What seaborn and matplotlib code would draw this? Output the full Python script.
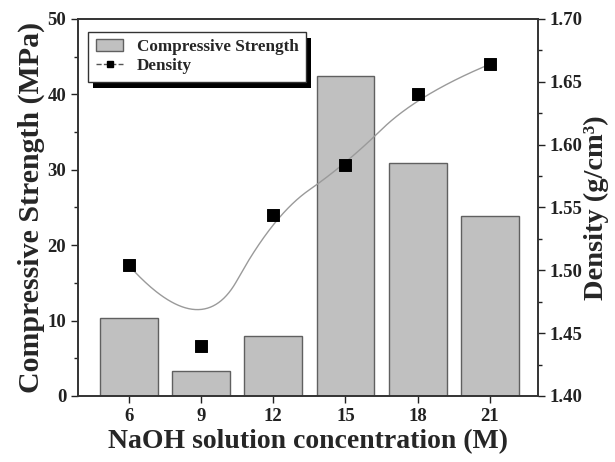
import numpy as np
import pandas as pd
import matplotlib
matplotlib.use("Agg")
import matplotlib.pyplot as plt
from matplotlib.patches import Rectangle, Patch
from matplotlib.lines import Line2D
import seaborn as sns

# ---- data ----
concentration = [6, 9, 12, 15, 18, 21]
strength = [10.3, 3.3, 8.0, 42.4, 30.9, 23.8]
density = [1.504, 1.440, 1.544, 1.584, 1.640, 1.664]
x_ticks = [6, 9, 12, 15, 18, 21]
left_ticks = [0, 10, 20, 30, 40, 50]
right_ticks = [1.40, 1.45, 1.50, 1.55, 1.60, 1.65, 1.70]

sns.set_theme(style="ticks")
plt.rcParams['font.family'] = ['Liberation Serif', 'DejaVu Serif']
plt.rcParams['font.weight'] = 'bold'

df = pd.DataFrame({"c": concentration, "s": strength, "d": density})

fig = plt.figure(figsize=(6.15, 4.62), dpi=100)
ax = fig.add_axes([0.127, 0.143, 0.748, 0.816])

sns.barplot(data=df, x="c", y="s", native_scale=True, width=0.8,
            color="#c0c0c0", edgecolor="#606060", linewidth=1.0,
            saturation=1, ax=ax, zorder=2)
ax.set_xlim(3.9, 23.0)
ax.set_ylim(0, 50)
ax.set_xticks(x_ticks)
ax.set_xticklabels([str(t) for t in x_ticks])
ax.set_yticks(left_ticks)
ax.set_yticks(np.arange(5, 50, 10), minor=True)

ax2 = ax.twinx()
ax2.set_ylim(1.40, 1.70)
ax2.set_yticks(right_ticks)
ax2.set_yticklabels([f"{t:.2f}" for t in right_ticks])
ax2.set_yticks(np.arange(1.425, 1.70, 0.05), minor=True)

# clamped quadratic B-spline using the density points as control points
def bspline(px, py, n=400, k=2):
    m = len(px)
    inner = np.linspace(0, 1, m - k + 1)[1:-1]
    t = np.concatenate([np.zeros(k + 1), inner, np.ones(k + 1)])
    u = np.linspace(0, 1 - 1e-9, n)
    def N(i, p, uu):
        if p == 0:
            return np.where((t[i] <= uu) & (uu < t[i + 1]), 1.0, 0.0)
        a = 0.0
        if t[i + p] != t[i]:
            a = (uu - t[i]) / (t[i + p] - t[i]) * N(i, p - 1, uu)
        b = 0.0
        if t[i + p + 1] != t[i + 1]:
            b = (t[i + p + 1] - uu) / (t[i + p + 1] - t[i + 1]) * N(i + 1, p - 1, uu)
        return a + b
    B = np.array([N(i, k, u) for i in range(m)])
    return B.T @ np.asarray(px, float), B.T @ np.asarray(py, float)

cx, cy = bspline(concentration, density)
curve = pd.DataFrame({"x": cx, "y": cy})
sns.lineplot(data=curve, x="x", y="y", sort=False, color="#9a9a9a",
             linewidth=1.0, ax=ax2, zorder=3)
sns.scatterplot(data=df, x="c", y="d", marker="s", color="black",
                s=70, edgecolor="black", ax=ax2, zorder=4)

for a in (ax, ax2):
    for sp in a.spines.values():
        sp.set_visible(True)
        sp.set_linewidth(1.2)
        sp.set_color("#333333")
    a.tick_params(axis="both", which="major", direction="out", length=5,
                  width=1.0, labelsize=13.5, colors="#222222")
    a.tick_params(axis="both", which="minor", direction="out", length=3,
                  width=1.0, colors="#222222")
    for lab in a.get_xticklabels() + a.get_yticklabels():
        lab.set_fontweight("bold")

ax.tick_params(axis="x", which="both", top=False)
ax2.tick_params(axis="x", which="both", top=False, bottom=False)

ax.set_xlabel("NaOH solution concentration (M)", fontsize=20, fontweight="bold", labelpad=3)
ax.set_ylabel("Compressive Strength (MPa)", fontsize=21.5, fontweight="bold", labelpad=2)
ax2.set_ylabel("Density (g/cm³)", fontsize=20.5, fontweight="bold", labelpad=1)

handles = [Patch(facecolor="#c0c0c0", edgecolor="#606060", label="Compressive Strength"),
           Line2D([0], [0], color="#555555", linestyle="--", linewidth=1.0,
                  marker="s", markersize=5, markerfacecolor="black",
                  markeredgecolor="black", label="Density")]
leg = ax2.legend(handles=handles, loc="upper left", bbox_to_anchor=(0.022, 0.966),
                 borderaxespad=0, frameon=True, fancybox=False, shadow=False,
                 framealpha=1.0, facecolor="white",
                 prop={"family": "Liberation Serif", "weight": "bold", "size": 12.3},
                 handlelength=1.6, handletextpad=0.8, labelspacing=0.15,
                 borderpad=0.45)
leg.get_frame().set_edgecolor("#333333")
leg.get_frame().set_linewidth(1.0)
leg.set_zorder(10)

fig.canvas.draw()
bb = leg.get_window_extent().transformed(fig.transFigure.inverted())
dx, dy = 5 / 615, 6 / 462
shadow = Rectangle((bb.x0 + dx, bb.y0 - dy), bb.width, bb.height,
                   transform=fig.transFigure, facecolor="black", edgecolor="none",
                   zorder=9)
ax2.add_artist(shadow)
shadow.set_clip_on(False)

fig.savefig("out.png", dpi=100)
